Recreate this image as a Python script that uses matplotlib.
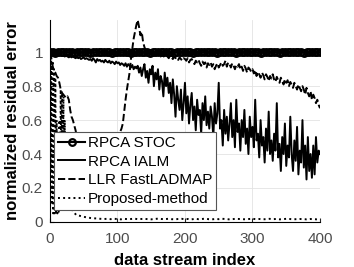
import numpy as np
import matplotlib.pyplot as plt

plt.rcParams['font.family'] = ['Liberation Sans', 'DejaVu Sans']

# data stream index for each series
x_stoc = np.arange(0, 401, 4)
x_ialm = np.arange(0, 401, 2)
x_llr = np.arange(0, 401, 2)
x_prop = np.concatenate([np.arange(0, 40), np.arange(40, 401, 5)])

rpca_stoc = [
    1.0, 1.002, 0.998, 1.001, 0.999, 1.0, 1.002, 0.999, 1.001, 0.998,
    1.0, 1.001, 0.999, 1.002, 1.0, 0.998, 1.001, 1.0, 0.999, 1.002,
    1.0, 0.999, 1.001, 0.998, 1.0, 1.002, 1.0, 0.999, 1.001, 1.0,
    0.998, 1.001, 1.0, 1.002, 0.999, 1.0, 1.001, 0.998, 1.0, 1.001,
    0.999, 1.002, 1.0, 0.999, 1.001, 1.0, 0.998, 1.001, 1.0, 1.002,
    0.999, 1.0, 1.001, 0.998, 1.0, 1.002, 0.999, 1.001, 1.0, 0.999,
    1.001, 1.0, 0.998, 1.002, 1.0, 0.999, 1.001, 1.0, 1.002, 0.998,
    1.0, 1.001, 0.999, 1.0, 1.002, 0.999, 1.001, 1.0, 0.998, 1.001,
    1.0, 1.002, 0.999, 1.0, 1.001, 0.998, 1.0, 1.002, 0.999, 1.001,
    1.0, 0.999, 1.001, 1.0, 0.998, 1.002, 1.0, 0.999, 1.001, 1.0,
    1.0,
]

rpca_ialm = [
    1.00, 0.995, 0.99, 0.99, 0.985, 0.99, 0.985, 0.98, 0.985, 0.98,
    0.98, 0.975, 0.98, 0.975, 0.97, 0.975, 0.97, 0.975, 0.97, 0.965,
    0.97, 0.965, 0.97, 0.96, 0.965, 0.97, 0.96, 0.965, 0.96, 0.955,
    0.96, 0.95, 0.965, 0.955, 0.94, 0.96, 0.95, 0.955, 0.945, 0.95,
    0.94, 0.955, 0.945, 0.94, 0.95, 0.935, 0.945, 0.94, 0.93, 0.945,
    0.935, 0.94, 0.925, 0.935, 0.93, 0.92, 0.935, 0.915, 0.93, 0.92,
    0.91, 0.925, 0.9, 0.915, 0.905,
    0.92, 0.88, 0.91, 0.86, 0.9, 0.93, 0.85, 0.89, 0.82, 0.9,
    0.87, 0.92, 0.8, 0.88, 0.84, 0.9, 0.78, 0.86, 0.83, 0.74,
    0.88, 0.8, 0.85, 0.76, 0.82,
    0.7, 0.84, 0.75, 0.62, 0.8, 0.72, 0.66, 0.78, 0.6, 0.7,
    0.82, 0.64, 0.74, 0.58, 0.69,
    0.76, 0.6, 0.68, 0.54, 0.72, 0.63, 0.66, 0.52, 0.7, 0.6,
    0.74, 0.57, 0.65, 0.55, 0.68,
    0.62, 0.5, 0.7, 0.58, 0.64, 0.82, 0.55, 0.6, 0.45, 0.66,
    0.52, 0.62, 0.48, 0.58, 0.7,
    0.5, 0.6, 0.44, 0.72, 0.53, 0.58, 0.42, 0.6, 0.5, 0.66,
    0.46, 0.55, 0.4, 0.62, 0.5,
    0.56, 0.44, 0.72, 0.48, 0.52, 0.38, 0.6, 0.45, 0.5, 0.35,
    0.55, 0.42, 0.65, 0.4, 0.48,
    0.36, 0.52, 0.42, 0.7, 0.38, 0.46, 0.3, 0.5, 0.4, 0.58,
    0.33, 0.45, 0.38, 0.62, 0.4,
    0.3, 0.48, 0.36, 0.56, 0.28, 0.42, 0.35, 0.6, 0.32, 0.45,
    0.25, 0.5, 0.3, 0.4, 0.26,
    0.45, 0.28, 0.5, 0.35, 0.42, 0.4,
]

llr_fastladmap = [
    1.0, 0.96, 0.92, 0.89, 0.88, 0.86, 0.85, 0.82, 0.78, 0.76,
    0.75, 0.74, 0.73, 0.74, 0.72, 0.66, 0.62, 0.6, 0.57, 0.54,
    0.5, 0.47, 0.44, 0.42, 0.4, 0.38, 0.36, 0.35, 0.34, 0.33,
    0.32, 0.31, 0.3, 0.3, 0.29, 0.29, 0.3, 0.3, 0.31, 0.32,
    0.33, 0.34, 0.35, 0.36, 0.38, 0.4, 0.42, 0.44, 0.46, 0.48,
    0.5, 0.52, 0.53, 0.55, 0.58, 0.65, 0.72, 0.78, 0.83, 0.88,
    0.96, 1.02, 1.08, 1.12, 1.16,
    1.19, 1.15, 1.1, 1.12, 1.06, 1.03, 1.01, 1.0, 0.99, 1.0,
    0.99, 1.0, 0.985, 0.99, 0.98, 0.995, 0.985, 0.975, 0.99, 0.98,
    0.97, 0.985, 0.975, 0.965, 0.98, 0.97, 0.96, 0.975, 0.965, 0.97,
    0.955, 0.97, 0.96, 0.95, 0.965,
    0.96, 0.95, 0.965, 0.94, 0.955, 0.96, 0.945, 0.93, 0.95, 0.94,
    0.955, 0.935, 0.92, 0.945, 0.93, 0.94, 0.91, 0.935, 0.925, 0.94,
    0.915, 0.93, 0.9, 0.92, 0.935,
    0.91, 0.925, 0.94, 0.92, 0.93, 0.95, 0.915, 0.94, 0.93, 0.91,
    0.935, 0.92, 0.9, 0.925, 0.915, 0.93, 0.9, 0.915, 0.89, 0.92,
    0.905, 0.88, 0.91, 0.9, 0.885,
    0.9, 0.875, 0.895, 0.86, 0.885, 0.87, 0.85, 0.88, 0.865, 0.84,
    0.87, 0.855, 0.83, 0.86, 0.845, 0.87, 0.84, 0.825, 0.855, 0.835,
    0.82, 0.85, 0.83, 0.81, 0.84,
    0.82, 0.835, 0.8, 0.825, 0.81, 0.79, 0.82, 0.8, 0.78, 0.81,
    0.79, 0.77, 0.8, 0.78, 0.75, 0.79, 0.76, 0.74, 0.77, 0.72,
    0.75, 0.73, 0.7, 0.72, 0.69,
    0.67,
]

proposed = [
    1.18, 0.3, 1.0, 0.1, 0.95, 0.05, 0.9, 0.05, 0.85, 0.05,
    0.6, 0.05, 0.3, 0.05, 0.6, 0.1, 0.78, 0.1, 0.76, 0.1,
    0.74, 0.1, 0.6, 0.1, 0.4, 0.1, 0.2, 0.1, 0.12, 0.11,
    0.1, 0.09, 0.08, 0.07, 0.065, 0.06, 0.055, 0.05, 0.045, 0.04,
    0.04, 0.035, 0.03, 0.026, 0.023, 0.021, 0.02, 0.018, 0.017, 0.018,
    0.016, 0.018, 0.017, 0.015, 0.018, 0.016, 0.017, 0.019, 0.016, 0.017,
    0.018, 0.016, 0.015, 0.017, 0.019, 0.017, 0.016, 0.018, 0.016, 0.015,
    0.017, 0.018, 0.016, 0.017, 0.015, 0.018, 0.016, 0.017, 0.019, 0.016,
    0.015, 0.017, 0.016, 0.018, 0.017, 0.015, 0.016, 0.018, 0.017, 0.016,
    0.015, 0.017, 0.018, 0.016, 0.017, 0.015, 0.016, 0.018, 0.016, 0.017,
    0.015, 0.016, 0.018, 0.017, 0.015, 0.016, 0.017, 0.016, 0.015, 0.017,
    0.016, 0.015, 0.016,
]

xticks = [0, 100, 200, 300, 400]
yticks = [0, 0.2, 0.4, 0.6, 0.8, 1]
ytick_labels = ["0", "0.2", "0.4", "0.6", "0.8", "1"]

fig = plt.figure(figsize=(3.54, 2.67), dpi=100)
ax = fig.add_axes([0.141, 0.169, 0.763, 0.756])

ax.plot(x_stoc, rpca_stoc, color='black', linestyle='-', marker='o',
        markersize=4.8, markerfacecolor='none', markeredgewidth=1.6,
        linewidth=1.5, label='RPCA STOC')
ax.plot(x_ialm, rpca_ialm, color='black', linestyle='-', linewidth=1.4,
        label='RPCA IALM')
ax.plot(x_llr, llr_fastladmap, color='black', linestyle='--', linewidth=1.4,
        label='LLR FastLADMAP')
ax.plot(x_prop, proposed, color='black', linestyle=':', linewidth=1.4,
        label='Proposed-method')

ax.set_xlim(0, 400)
ax.set_ylim(0, 1.19)
ax.set_xticks(xticks)
ax.set_yticks(yticks)
ax.set_yticklabels(ytick_labels)
ax.grid(True, color='#e3e3e3', linewidth=0.6)
ax.set_axisbelow(True)
ax.spines['top'].set_visible(False)
ax.spines['right'].set_visible(False)
ax.tick_params(direction='in', length=3, labelsize=11, colors='#262626',
               labelcolor='#4d4d4d')
ax.tick_params(axis='x', pad=7)
ax.tick_params(axis='y', pad=5)

ax.set_xlabel('data stream index', fontsize=12, fontweight='bold', labelpad=5)
ax.set_ylabel('normalized residual error', fontsize=12, fontweight='bold',
              labelpad=1.5)

leg = ax.legend(loc='lower left', bbox_to_anchor=(0.015, 0.06),
                borderaxespad=0, fontsize=11, fancybox=False,
                edgecolor='#555555', framealpha=1, numpoints=1,
                handlelength=1.8, handletextpad=0.15, labelspacing=0.3,
                borderpad=0.25)
leg.get_frame().set_linewidth(0.8)

fig.savefig('out.png', dpi=100)
